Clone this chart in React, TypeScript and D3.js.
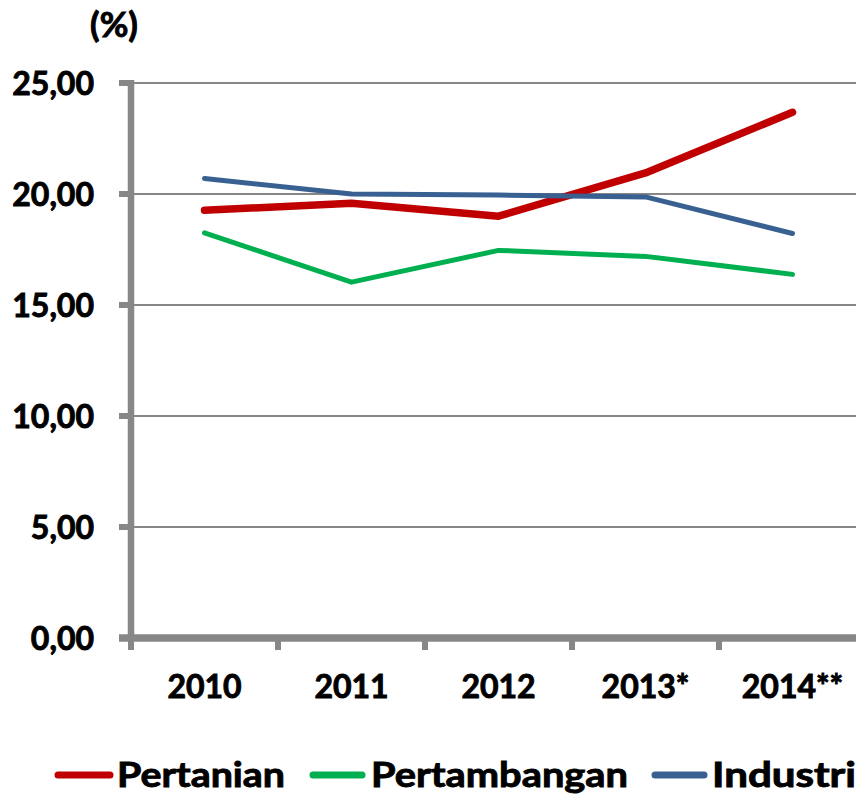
import React from 'react';
import * as d3 from 'd3';

const years = ['2010', '2011', '2012', '2013*', '2014**'];
const pertanian = [19.27, 19.58, 19.0, 20.95, 23.68];
const pertambangan = [18.25, 16.03, 17.46, 17.19, 16.38];
const industri = [20.7, 20.0, 19.95, 19.87, 18.22];
const yTicks = [0, 5, 10, 15, 20, 25];

const series = [
    { name: 'Pertanian', values: pertanian, color: '#C00000', width: 7.5 },
    { name: 'Pertambangan', values: pertambangan, color: '#00B050', width: 5 },
    { name: 'Industri', values: industri, color: '#386192', width: 5 }
];

const W = 856;
const H = 794;
const axisColor = '#878787';
const font = 'Lato, "DejaVu Sans", sans-serif';

// bold text with a thin outline to match the heavy reference lettering
const txt = { fontFamily: font, fontWeight: 700, fill: '#000', stroke: '#000', strokeWidth: 0.9 } as const;

export default function App() {
    const x = d3.scaleBand<string>().domain(years).range([131, 866]).padding(0);
    const y = d3.scaleLinear().domain([0, 25]).range([638, 83]);
    const cx = (d: string) => (x(d) as number) + x.bandwidth() / 2;
    const fmt = (v: number) => d3.format('.2f')(v).replace('.', ',');

    const line = d3.line<number>()
        .x((_, i) => cx(years[i]))
        .y(v => y(v));

    // legend placement (line start, text start)
    const legendPos = [
        { lx: 58, tx: 117, len: 52 },
        { lx: 313, tx: 371, len: 49 },
        { lx: 655, tx: 712, len: 49 }
    ];
    const legendW = [168, 257, 144];

    return (
        <svg width={W} height={H} style={{ position: 'absolute', left: 0, top: 0, background: '#fff' }}>
            <text x={114} y={37} textAnchor="middle" fontSize={35} {...txt}>(%)</text>

            {/* gridlines */}
            {yTicks.filter(t => t > 0).map(t => (
                <line key={'g' + t} x1={131} x2={W} y1={y(t)} y2={y(t)} stroke={axisColor} strokeWidth={2} />
            ))}

            {/* y axis */}
            <line x1={131} x2={131} y1={y(25) - 3} y2={y(0)} stroke={axisColor} strokeWidth={6.5} />
            {yTicks.map(t => (
                <g key={'yt' + t}>
                    <line x1={119} x2={131} y1={y(t)} y2={y(t)} stroke={axisColor} strokeWidth={6} />
                    <text x={94} y={y(t)} dy="0.36em" textAnchor="end" fontSize={32} {...txt}>{fmt(t)}</text>
                </g>
            ))}

            {/* x axis */}
            <line x1={119} x2={866} y1={y(0)} y2={y(0)} stroke={axisColor} strokeWidth={7.5} />
            {years.map(d => (
                <line key={'xt' + d} x1={x(d)} x2={x(d)} y1={y(0)} y2={650} stroke={axisColor} strokeWidth={6} />
            ))}
            {years.map(d => (
                <text key={'xl' + d} x={cx(d)} y={698} textAnchor="middle" fontSize={32} {...txt}>{d}</text>
            ))}

            {/* series */}
            {series.map(s => (
                <path key={s.name} d={line(s.values) || ''} fill="none" stroke={s.color} strokeWidth={s.width}
                    strokeLinecap="round" strokeLinejoin="round" />
            ))}

            {/* legend */}
            {series.map((s, i) => (
                <g key={'lg' + s.name}>
                    <line x1={legendPos[i].lx} x2={legendPos[i].lx + legendPos[i].len} y1={775} y2={775}
                        stroke={s.color} strokeWidth={7} strokeLinecap="round" />
                    <text x={legendPos[i].tx} y={787} fontSize={35} {...txt}
                        textLength={legendW[i]} lengthAdjust="spacingAndGlyphs">{s.name}</text>
                </g>
            ))}
        </svg>
    );
}
